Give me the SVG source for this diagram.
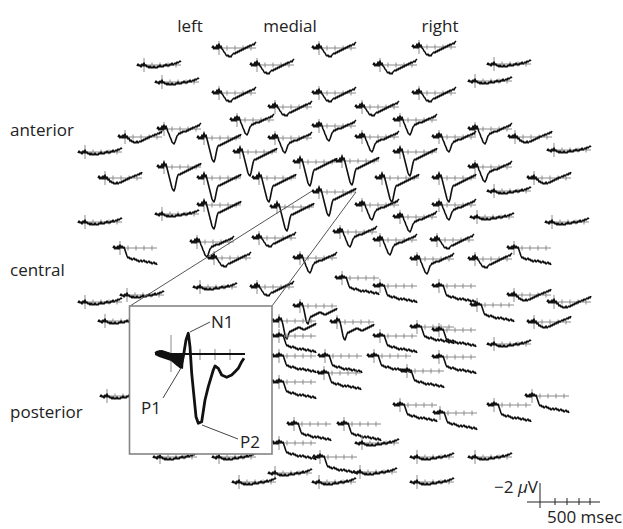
<svg xmlns="http://www.w3.org/2000/svg" xmlns:xlink="http://www.w3.org/1999/xlink" width="623" height="529" viewBox="0 0 623 529">
<style>
.a{fill:none;stroke:#8a8a8a;stroke-width:1}
.t{fill:none;stroke:#111;stroke-width:1.6;stroke-linejoin:round}
.lbl{font-family:"Open Sans","Noto Sans",sans-serif;font-size:17px;fill:#222}
.box{fill:#fff;stroke:#858585;stroke-width:1.6}
.zl{fill:none;stroke:#555;stroke-width:1}
.cl{fill:none;stroke:#444;stroke-width:1}
</style>
<defs>
<path id="ax" class="a" d="M-7,0H37M8,-2.5V2.5M16,-2.5V2.5M24,-2.5V2.5M32,-2.5V2.5M0,-7V7"/>
<g id="wN"><use xlink:href="#ax"/><path class="t" d="M-7,1 L-6,-1 L-5,1 L-4,0 L-3,2 L-2,-1 L-1,1 L0,-2 L1,1 L2,0 L3,2 L4,1 L5,3 L6,1 L7,3 L8,2 L9,3 L10,1 L11,3 L12,2 L13,3 L14,1 L15,2 L16,0 L17,2 L18,1 L19,2 L20,0 L21,1 L22,-1 L23,1 L24,0 L25,1 L26,-1 L27,0 L28,-2 L29,0 L30,-1 L31,-2 L32,-1 L33,-3 L34,-2 L35,-3 L36,-4 L37,-3"/></g>
<g id="wF"><use xlink:href="#ax"/><path class="t" d="M-7,0 L-6,-2 L-5,1 L-4,-1 L-3,1 L-2,-2 L-1,1 L0,-3 L1,1 L2,-1 L3,2 L4,1 L5,4 L6,3 L7,5 L8,4 L9,6 L10,5 L11,6 L12,4 L13,6 L14,5 L15,4 L16,5 L17,3 L18,4 L19,2 L20,3 L21,1 L22,2 L23,0 L24,1 L25,-1 L26,0 L27,-1 L28,-2 L29,-1 L30,-3 L31,-2 L32,-3 L33,-4 L34,-3 L35,-5 L36,-4 L37,-6"/></g>
<g id="wS"><use xlink:href="#ax"/><path class="t" d="M-7,0 L-6,-2 L-5,1 L-4,-1 L-3,1 L-2,-3 L-1,1 L0,-4 L1,0 L2,-2 L3,1 L4,2 L5,4 L6,5 L7,7 L8,8 L9,7 L10,9 L11,8 L12,9 L13,7 L14,6 L15,5 L16,6 L17,4 L18,5 L19,3 L20,4 L21,2 L22,3 L23,1 L24,2 L25,0 L26,1 L27,-1 L28,0 L29,-2 L30,-1 L31,-3 L32,-2 L33,-3 L34,-4 L35,-3 L36,-5 L37,-6"/></g>
<g id="wM"><use xlink:href="#ax"/><path class="t" d="M-7,0 L-6,-2 L-5,1 L-4,-1 L-3,1 L-2,-3 L-1,1 L0,-4 L1,0 L2,-3 L3,0 L4,3 L5,5 L6,8 L7,10 L8,13 L9,14 L10,15 L11,13 L12,10 L13,7 L14,6 L15,4 L16,5 L17,3 L18,4 L19,2 L20,3 L21,2 L22,3 L23,1 L24,2 L25,0 L26,1 L27,-1 L28,0 L29,-2 L30,-1 L31,-2 L32,-3 L33,-2 L34,-4 L35,-3 L36,-5 L37,-6"/></g>
<g id="wD"><use xlink:href="#ax"/><path class="t" d="M-7,0 L-6,-2 L-5,1 L-4,-1 L-3,1 L-2,-3 L-1,1 L0,-5 L1,-1 L2,-3 L3,1 L4,5 L5,9 L6,13 L7,17 L8,21 L9,23 L10,24 L11,21 L12,16 L13,11 L14,8 L15,7 L16,8 L17,6 L18,7 L19,5 L20,6 L21,4 L22,5 L23,3 L24,4 L25,2 L26,3 L27,1 L28,2 L29,0 L30,1 L31,-1 L32,0 L33,-2 L34,-1 L35,-3 L36,-2 L37,-4"/></g>
<g id="wB"><use xlink:href="#ax"/><path class="t" d="M-7,0 L-6,-2 L-5,1 L-4,-1 L-3,1 L-2,-2 L-1,1 L0,-4 L1,-1 L2,-3 L3,0 L4,4 L5,9 L6,14 L7,17 L8,18 L9,15 L10,12 L11,10 L12,11 L13,9 L14,10 L15,8 L16,9 L17,7 L18,8 L19,6 L20,7 L21,6 L22,8 L23,7 L24,9 L25,8 L26,9 L27,7 L28,8 L29,6 L30,7 L31,5 L32,6 L33,4 L34,5 L35,3 L36,4 L37,2"/></g>
<g id="wZ"><use xlink:href="#ax"/><path class="t" d="M-7,0 L-6,-2 L-5,1 L-4,-1 L-3,1 L-2,-2 L-1,1 L0,-3 L1,0 L2,-2 L3,0 L4,-1 L5,2 L6,5 L7,8 L8,10 L9,9 L10,11 L11,10 L12,12 L13,11 L14,10 L15,12 L16,11 L17,13 L18,12 L19,14 L20,13 L21,12 L22,14 L23,13 L24,12 L25,14 L26,13 L27,15 L28,14 L29,13 L30,15 L31,14 L32,16 L33,15 L34,14 L35,16 L36,15 L37,17"/></g>
</defs>
<rect width="623" height="529" fill="#fff"/>

<g id="labels">
<text class="lbl" x="190" y="32" text-anchor="middle">left</text>
<text class="lbl" x="290" y="32" text-anchor="middle">medial</text>
<text class="lbl" x="440" y="32" text-anchor="middle">right</text>
<text class="lbl" x="10" y="136">anterior</text>
<text class="lbl" x="10" y="276">central</text>
<text class="lbl" x="10" y="418">posterior</text>
</g>

<g id="waveforms">
<use xlink:href="#wS" x="219" y="48"/><use xlink:href="#wS" x="319" y="48"/><use xlink:href="#wS" x="419" y="47"/>
<use xlink:href="#wN" x="144" y="65"/><use xlink:href="#wS" x="257" y="65"/><use xlink:href="#wS" x="380" y="65"/><use xlink:href="#wN" x="494" y="64"/>
<use xlink:href="#wN" x="162" y="82"/><use xlink:href="#wN" x="475" y="81"/>
<use xlink:href="#wS" x="219" y="93"/><use xlink:href="#wS" x="319" y="93"/><use xlink:href="#wS" x="419" y="93"/>
<use xlink:href="#wS" x="275" y="107"/><use xlink:href="#wS" x="362" y="107"/>
<use xlink:href="#wM" x="237" y="120"/><use xlink:href="#wM" x="319" y="126"/><use xlink:href="#wM" x="400" y="120"/>
<use xlink:href="#wM" x="164" y="129"/><use xlink:href="#wM" x="475" y="129"/>
<use xlink:href="#wF" x="125" y="137"/><use xlink:href="#wD" x="204" y="138"/><use xlink:href="#wM" x="275" y="138"/><use xlink:href="#wM" x="362" y="137"/><use xlink:href="#wM" x="439" y="137"/><use xlink:href="#wF" x="515" y="137"/>
<use xlink:href="#wN" x="85" y="152"/><use xlink:href="#wD" x="240" y="152"/><use xlink:href="#wD" x="400" y="152"/><use xlink:href="#wN" x="554" y="150"/>
<use xlink:href="#wD" x="300" y="162"/><use xlink:href="#wD" x="342" y="161"/>
<use xlink:href="#wD" x="164" y="167"/><use xlink:href="#wM" x="475" y="167"/>
<use xlink:href="#wF" x="105" y="178"/><use xlink:href="#wD" x="204" y="178"/><use xlink:href="#wD" x="259" y="178"/><use xlink:href="#wD" x="382" y="178"/><use xlink:href="#wD" x="439" y="178"/><use xlink:href="#wF" x="534" y="178"/>
<use xlink:href="#wN" x="494" y="191"/><use xlink:href="#wD" x="319" y="192"/>
<use xlink:href="#wD" x="204" y="205"/><use xlink:href="#wD" x="277" y="207"/><use xlink:href="#wM" x="362" y="205"/><use xlink:href="#wM" x="439" y="205"/>
<use xlink:href="#wN" x="162" y="214"/><use xlink:href="#wM" x="400" y="217"/><use xlink:href="#wN" x="477" y="217"/>
<use xlink:href="#wN" x="85" y="222"/><use xlink:href="#wN" x="552" y="222"/>
<use xlink:href="#wM" x="340" y="232"/><use xlink:href="#wS" x="259" y="238"/><use xlink:href="#wM" x="380" y="240"/><use xlink:href="#wS" x="437" y="240"/>
<use xlink:href="#wM" x="197" y="242"/><use xlink:href="#wZ" x="120" y="248"/><use xlink:href="#wZ" x="514" y="248"/>
<use xlink:href="#wS" x="214" y="258"/><use xlink:href="#wM" x="300" y="258"/><use xlink:href="#wM" x="417" y="259"/><use xlink:href="#wS" x="475" y="259"/>
<use xlink:href="#wZ" x="342" y="278"/>
<use xlink:href="#wN" x="200" y="287"/><use xlink:href="#wS" x="257" y="287"/><use xlink:href="#wZ" x="380" y="286"/><use xlink:href="#wZ" x="439" y="286"/>
<use xlink:href="#wN" x="127" y="295"/><use xlink:href="#wN" x="85" y="302"/><use xlink:href="#wF" x="514" y="295"/><use xlink:href="#wF" x="554" y="302"/>
<use xlink:href="#wZ" x="477" y="305"/><use xlink:href="#wB" x="300" y="306"/>
<use xlink:href="#wN" x="105" y="321"/><use xlink:href="#wB" x="279" y="321"/><use xlink:href="#wB" x="337" y="322"/><use xlink:href="#wZ" x="417" y="327"/><use xlink:href="#wF" x="534" y="322"/>
<use xlink:href="#wZ" x="439" y="330"/><use xlink:href="#wZ" x="279" y="336"/><use xlink:href="#wZ" x="380" y="336"/><use xlink:href="#wN" x="494" y="344"/>
<use xlink:href="#wZ" x="279" y="356"/><use xlink:href="#wZ" x="325" y="356"/><use xlink:href="#wZ" x="374" y="356"/><use xlink:href="#wZ" x="439" y="357"/>
<use xlink:href="#wZ" x="407" y="371"/><use xlink:href="#wZ" x="324" y="373"/>
<use xlink:href="#wZ" x="279" y="382"/>
<use xlink:href="#wN" x="107" y="396"/><use xlink:href="#wZ" x="532" y="396"/>
<use xlink:href="#wZ" x="400" y="405"/><use xlink:href="#wZ" x="494" y="405"/><use xlink:href="#wZ" x="440" y="413"/>
<use xlink:href="#wZ" x="294" y="424"/><use xlink:href="#wZ" x="344" y="424"/>
<use xlink:href="#wZ" x="279" y="443"/><use xlink:href="#wN" x="362" y="443"/>
<use xlink:href="#wN" x="160" y="457"/><use xlink:href="#wN" x="219" y="457"/><use xlink:href="#wZ" x="320" y="457"/><use xlink:href="#wN" x="417" y="457"/><use xlink:href="#wN" x="475" y="457"/>
<use xlink:href="#wN" x="275" y="473"/><use xlink:href="#wN" x="360" y="472"/>
<use xlink:href="#wN" x="239" y="482"/><use xlink:href="#wN" x="319" y="482"/><use xlink:href="#wN" x="417" y="482"/>
</g>

<g id="connectors">
<path class="zl" d="M130,306L312,191M272,306L356,192"/>
</g>

<g id="inset">
<rect class="box" x="129.5" y="306" width="142.5" height="148"/>
<path class="a" d="M171,335V372M200,349V360M215,349V360M230,349V360"/>
<path d="M155,354H245" fill="none" stroke="#111" stroke-width="2"/>
<path d="M156,351 L162,350 L168,352 L174,354 L179,355 L184,355 L183,369 L177,366 L171,361 L165,359 L159,357 L155,355 Z" fill="#111"/>
<path fill="none" stroke="#111" stroke-width="2.8" stroke-linejoin="round" d="M155,353.3 L160,351.7 L166.7,353.3 L171.7,355 L175,361.7 L178.3,365 L180.7,367.3 L183.3,356.7 L186,340 L188.3,333.3 L190,346.7 L191.7,373.3 L194,396.7 L196,416.7 L198.3,423.3 L201.7,421.7 L205,400 L208.3,386.7 L213.3,370 L215,366 L218.3,368.3 L221.7,375 L226.7,377.3 L231.7,375 L235,371.7 L238.3,368.3 L241.7,361.7 L244,358.3"/>
<path class="cl" d="M210,322L190,332M163,398L181,368M238,439L202,425"/>
<text class="lbl" x="211" y="328">N1</text>
<text class="lbl" x="141" y="414">P1</text>
<text class="lbl" x="240" y="448">P2</text>
</g>

<g id="scalebar">
<path d="M540,483V508M527,502H600M555,498V505M567,498V505M579,498V505M590,498V505" fill="none" stroke="#222" stroke-width="1"/>
<text class="lbl" x="538" y="493" text-anchor="end">−2 <tspan font-style="italic">μ</tspan>V</text>
<text class="lbl" x="547" y="523">500 msec</text>
</g>
</svg>
